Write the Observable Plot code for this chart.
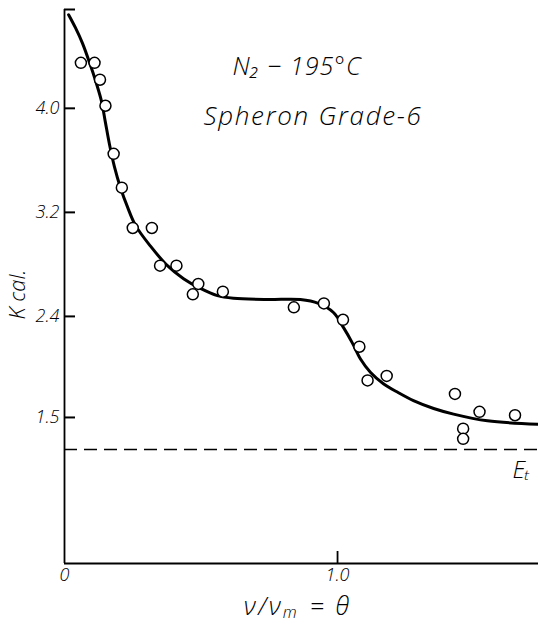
<!DOCTYPE html>
<html>
<head>
<meta charset="utf-8">
<script src="https://cdn.jsdelivr.net/npm/d3@7"></script>
<script src="https://cdn.jsdelivr.net/npm/@observablehq/plot@0.6"></script>
<style>
  body { margin: 0; background: #fff; }
  svg { display: block; }
</style>
</head>
<body>
<div id="chart"></div>
<script>
// Measured differential heats of adsorption, N2 at −195 °C on Spheron Grade-6
const thetaObs  = [0.06, 0.11, 0.13, 0.15, 0.18, 0.21, 0.25, 0.32, 0.35, 0.41, 0.49, 0.47,
                   0.58, 0.84, 0.95, 1.02, 1.08, 1.11, 1.18, 1.43, 1.52, 1.65, 1.46, 1.46];
const energyObs = [4.35, 4.35, 4.22, 4.02, 3.65, 3.39, 3.08, 3.08, 2.79, 2.79, 2.65, 2.57,
                   2.59, 2.47, 2.50, 2.37, 2.13, 1.83, 1.87, 1.71, 1.55, 1.52, 1.40, 1.31];

// Smooth curve drawn through the measurements
const thetaFit  = [0.015, 0.040, 0.066, 0.092, 0.117, 0.136, 0.150, 0.165, 0.183, 0.205, 0.231,
                   0.260, 0.315, 0.377, 0.436, 0.498, 0.560, 0.619, 0.744, 0.864, 0.930, 0.985,
                   1.022, 1.055, 1.084, 1.121, 1.168, 1.223, 1.278, 1.352, 1.425, 1.549, 1.733];
const energyFit = [4.72, 4.62, 4.50, 4.35, 4.19, 4.05, 3.89, 3.72, 3.55, 3.39, 3.24,
                   3.10, 2.94, 2.79, 2.69, 2.615, 2.56, 2.54, 2.53, 2.53, 2.50, 2.43,
                   2.30, 2.16, 2.02, 1.90, 1.80, 1.72, 1.65, 1.58, 1.53, 1.47, 1.44];

// Liquefaction energy level (dashed line)
const energyLiquid = 1.215;

// Axis ticks
const yTickValues = [1.5, 2.4, 3.2, 4.0];
const yTickLabels = ["1.5", "2.4", "3.2", "4.0"];
const xTickValues = [0, 1.0];
const xTickLabels = ["0", "1.0"];

// Scale extents; the energy axis is compressed below 2.4 (piecewise-linear)
const xDomain = [0, 1.736];
const energyMin = 0.2, energyMax = 4.76;
const energyWarp = d3.scaleLinear()
  .domain([energyMin, 1.5, 2.4, energyMax])
  .range([0.5, 1.623, 2.4, energyMax]);

const obs = thetaObs.map((t, i) => ({theta: t, energy: energyObs[i]}));
const fit = thetaFit.map((t, i) => ({theta: t, energy: energyFit[i]}));
// axis marks work in the warped space, so their ticks are warped explicitly
const yTicksWarped = yTickValues.map(energyWarp);
const yLabelOf = new Map(yTicksWarped.map((v, i) => [v, yTickLabels[i]]));
const xLabelOf = new Map(xTickValues.map((v, i) => [v, xTickLabels[i]]));

const W = 538, H = 625, mL = 64, mT = 9, mB = 62, mR = 0;
const yTickLen = 11, xTickLen = 12;

const font = "'Open Sans', 'Liberation Sans', sans-serif";

const chart = Plot.plot({
  width: W,
  height: H,
  marginLeft: mL,
  marginRight: mR,
  marginTop: mT,
  marginBottom: mB,
  style: {fontFamily: font, fontStyle: "italic", fontWeight: 300, color: "#000", background: "#fff"},
  x: {domain: xDomain, label: null},
  y: {transform: energyWarp, domain: [energyWarp(energyMin), energyWarp(energyMax)], label: null},
  marks: [
    // axis lines
    Plot.ruleX([xDomain[0]], {stroke: "#000", strokeWidth: 1.8}),
    Plot.ruleY([energyMin], {stroke: "#000", strokeWidth: 2}),
    // tick marks, shifted so they point into the plot
    Plot.axisY({
      ticks: [...yTicksWarped, energyWarp(energyMax)], tickSize: yTickLen, dx: yTickLen,
      tickFormat: () => "", label: null, stroke: "#000", strokeWidth: 2
    }),
    Plot.axisX({
      ticks: xTickValues.filter(v => v > 0), tickSize: xTickLen, dy: -xTickLen,
      tickFormat: () => "", label: null, stroke: "#000", strokeWidth: 1.8
    }),
    // tick labels
    Plot.axisY({
      ticks: yTicksWarped, tickSize: 0, tickPadding: 5, label: null,
      tickFormat: d => yLabelOf.get(d), fontSize: 18
    }),
    Plot.axisX({
      ticks: xTickValues, tickSize: 0, tickPadding: 5, label: null,
      tickFormat: d => xLabelOf.get(d), fontSize: 18
    }),
    // E_l level
    Plot.ruleY([energyLiquid], {stroke: "#000", strokeWidth: 1.6, strokeDasharray: "13,7"}),
    // fitted curve and measurements
    Plot.line(fit, {x: "theta", y: "energy", curve: "catmull-rom", stroke: "#000", strokeWidth: 3}),
    Plot.dot(obs, {x: "theta", y: "energy", r: 5.5, stroke: "#000", fill: "#fff", strokeWidth: 1.5}),
    // annotations
    Plot.text(["N₂ − 195°C"], {
      frameAnchor: "top-left", dx: 168, dy: 48, textAnchor: "start", fontSize: 25, fill: "#000"
    }),
    Plot.text(["Spheron Grade-6"], {
      frameAnchor: "top-left", dx: 139, dy: 97, textAnchor: "start", fontSize: 26, fill: "#000"
    }),
    Plot.text(["Eₜ"], {
      frameAnchor: "top-left", dx: 448, dy: 451, textAnchor: "start", fontSize: 24, fill: "#000"
    }),
    // axis titles
    Plot.text(["K cal."], {
      frameAnchor: "left", dx: -47, dy: 8, rotate: -90, textAnchor: "middle", fontSize: 22, fill: "#000"
    }),
    Plot.text(["ν/νₘ = θ"], {
      frameAnchor: "bottom", dx: -4, dy: 51, fontSize: 25, fill: "#000"
    })
  ]
});

// wider letter spacing on the handwritten-style annotations
d3.select(chart).selectAll("text").each(function () {
  const t = this.textContent;
  if (t === "Spheron Grade-6") this.setAttribute("letter-spacing", "1.7");
  if (t === "N₂ − 195°C") this.setAttribute("letter-spacing", "1");
  if (t === "ν/νₘ = θ") this.setAttribute("letter-spacing", "2.4");
});

document.getElementById("chart").appendChild(chart);
</script>
</body>
</html>
